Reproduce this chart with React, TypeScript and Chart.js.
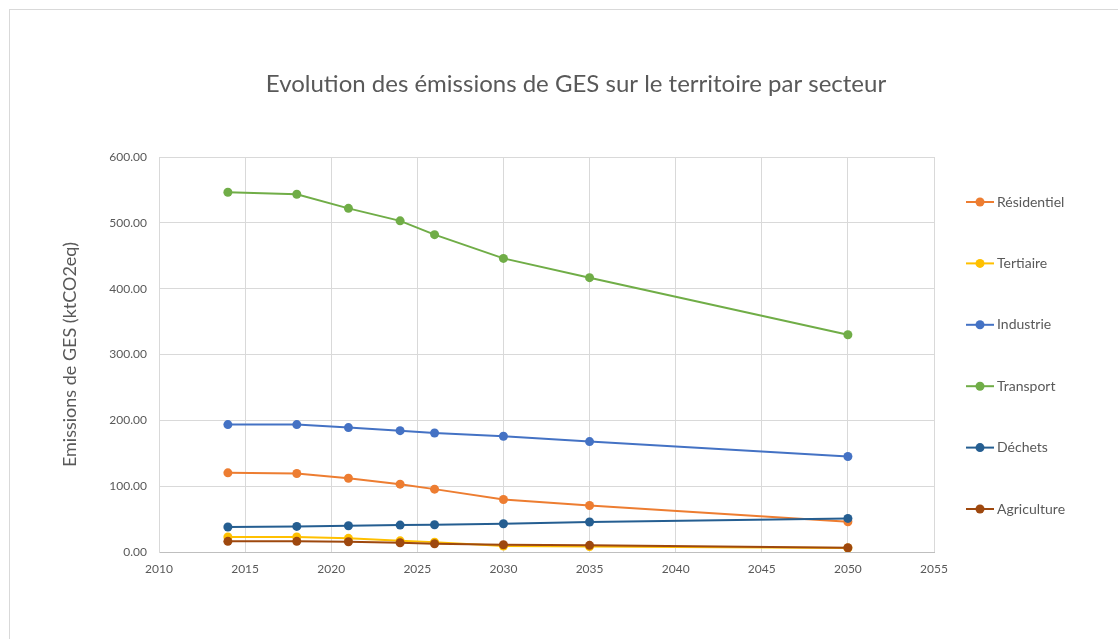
import React, { useEffect, useRef } from "react";
import { Chart, registerables } from "chart.js";

Chart.register(...registerables);

const years = [2014, 2018, 2021, 2024, 2026, 2030, 2035, 2050];
const residentiel = [120.2, 119.2, 112.0, 103.0, 95.5, 79.8, 70.7, 46.0];
const tertiaire = [22.7, 22.7, 20.7, 17.0, 15.0, 9.0, 8.2, 6.0];
const industrie = [193.5, 193.5, 189.0, 184.3, 180.8, 175.8, 167.7, 145.0];
const transport = [546.5, 543.5, 522.0, 503.0, 482.0, 446.0, 416.7, 330.0];
const dechets = [37.9, 38.9, 39.9, 40.9, 41.4, 42.9, 45.5, 51.0];
const agriculture = [16.2, 16.2, 15.6, 14.1, 12.6, 11.0, 10.1, 6.5];

const seriesNames = ["Résidentiel", "Tertiaire", "Industrie", "Transport", "Déchets", "Agriculture"];
const seriesValues = [residentiel, tertiaire, industrie, transport, dechets, agriculture];
const seriesColors = ["#ED7D31", "#FFC000", "#4472C4", "#70AD47", "#255E91", "#9E480E"];

const xTicks = [2010, 2015, 2020, 2025, 2030, 2035, 2040, 2045, 2050, 2055];
const yTicks = [0, 100, 200, 300, 400, 500, 600];

const titleText = "Evolution des émissions de GES sur le territoire par secteur";
const yTitleText = "Emissions de GES (ktCO2eq)";

const TEXT = "#595959";
const GRID = "#d9d9d9";

const sideLegend = {
  id: "sideLegend",
  afterDraw(chart: any) {
    const { ctx, chartArea } = chart;
    const x0 = chartArea.right + 32;
    const cy = (chartArea.top + chartArea.bottom) / 2 + 1;
    const step = 61.4;
    const dsets = chart.data.datasets;
    const n = dsets.length;
    ctx.save();
    dsets.forEach((ds: any, i: number) => {
      const y = cy + (i - (n - 1) / 2) * step;
      ctx.strokeStyle = ds.borderColor;
      ctx.lineWidth = 2;
      ctx.beginPath();
      ctx.moveTo(x0, y);
      ctx.lineTo(x0 + 28, y);
      ctx.stroke();
      ctx.fillStyle = ds.borderColor;
      ctx.beginPath();
      ctx.arc(x0 + 14, y, 4.5, 0, Math.PI * 2);
      ctx.fill();
      ctx.fillStyle = TEXT;
      ctx.font = "14px Lato";
      ctx.textBaseline = "middle";
      ctx.textAlign = "left";
      ctx.fillText(ds.label, x0 + 31, y);
    });
    ctx.restore();
  },
};

export default function App() {
  const ref = useRef<HTMLCanvasElement | null>(null);

  useEffect(() => {
    if (!ref.current) return;
    Chart.defaults.font.family = "Lato";
    const datasets = seriesNames.map((name, i) => ({
      label: name,
      data: years.map((yr, j) => ({ x: yr, y: seriesValues[i][j] })),
      borderColor: seriesColors[i],
      backgroundColor: seriesColors[i],
      pointBackgroundColor: seriesColors[i],
      pointBorderColor: seriesColors[i],
      borderWidth: 2,
      pointRadius: 4.5,
      pointBorderWidth: 0,
      tension: 0,
      order: seriesNames.length - i,
    }));
    const chart = new Chart(ref.current, {
      type: "line",
      data: { datasets },
      plugins: [sideLegend],
      options: {
        animation: false,
        responsive: true,
        maintainAspectRatio: false,
        layout: { padding: 0 },
        plugins: {
          legend: { display: false },
          tooltip: { enabled: false },
          title: {
            display: true,
            text: titleText,
            color: TEXT,
            font: { family: "Lato", size: 24, weight: "normal", lineHeight: 1.2 },
            padding: { top: 74 - 14.4, bottom: 147 - 74 - 14.4 },
          },
        },
        scales: {
          x: {
            type: "linear",
            min: 2010,
            max: 2055,
            afterBuildTicks: (s: any) => {
              s.ticks = xTicks.map((v) => ({ value: v }));
            },
            afterFit: (s: any) => {
              s.height = 87;
            },
            grid: { color: GRID, drawTicks: false },
            border: { color: "#bfbfbf" },
            ticks: {
              padding: 10,
              color: TEXT,
              font: { size: 12 },
              maxRotation: 0,
              autoSkip: false,
              callback: (v: any) => String(v),
            },
          },
          y: {
            type: "linear",
            min: 0,
            max: 600,
            afterBuildTicks: (s: any) => {
              s.ticks = yTicks.map((v) => ({ value: v }));
            },
            afterFit: (s: any) => {
              s.width = 149;
            },
            grid: { color: GRID, drawTicks: false },
            border: { color: GRID },
            ticks: {
              padding: 12,
              color: TEXT,
              font: { size: 12 },
              callback: (v: any) => Number(v).toFixed(2),
            },
            title: {
              display: true,
              text: yTitleText,
              color: TEXT,
              font: { family: "Lato", size: 18, lineHeight: 1.2 },
              padding: { top: 49, bottom: 0 },
            },
          },
          legendSpace: {
            type: "linear",
            position: "right",
            min: 0,
            max: 600,
            afterFit: (s: any) => {
              s.width = 208;
            },
            grid: { display: false, drawOnChartArea: false },
            border: { display: false },
            ticks: { display: false },
          },
        },
      },
    } as any);
    return () => chart.destroy();
  }, []);

  return (
    <div
      style={{
        position: "fixed",
        left: 9,
        top: 9,
        width: 1133,
        height: 630,
        borderTop: `1px solid ${GRID}`,
        borderLeft: `1px solid ${GRID}`,
        background: "#fff",
      }}
    >
      <div style={{ position: "relative", width: 1132, height: 629 }}>
        <canvas ref={ref} />
      </div>
    </div>
  );
}
